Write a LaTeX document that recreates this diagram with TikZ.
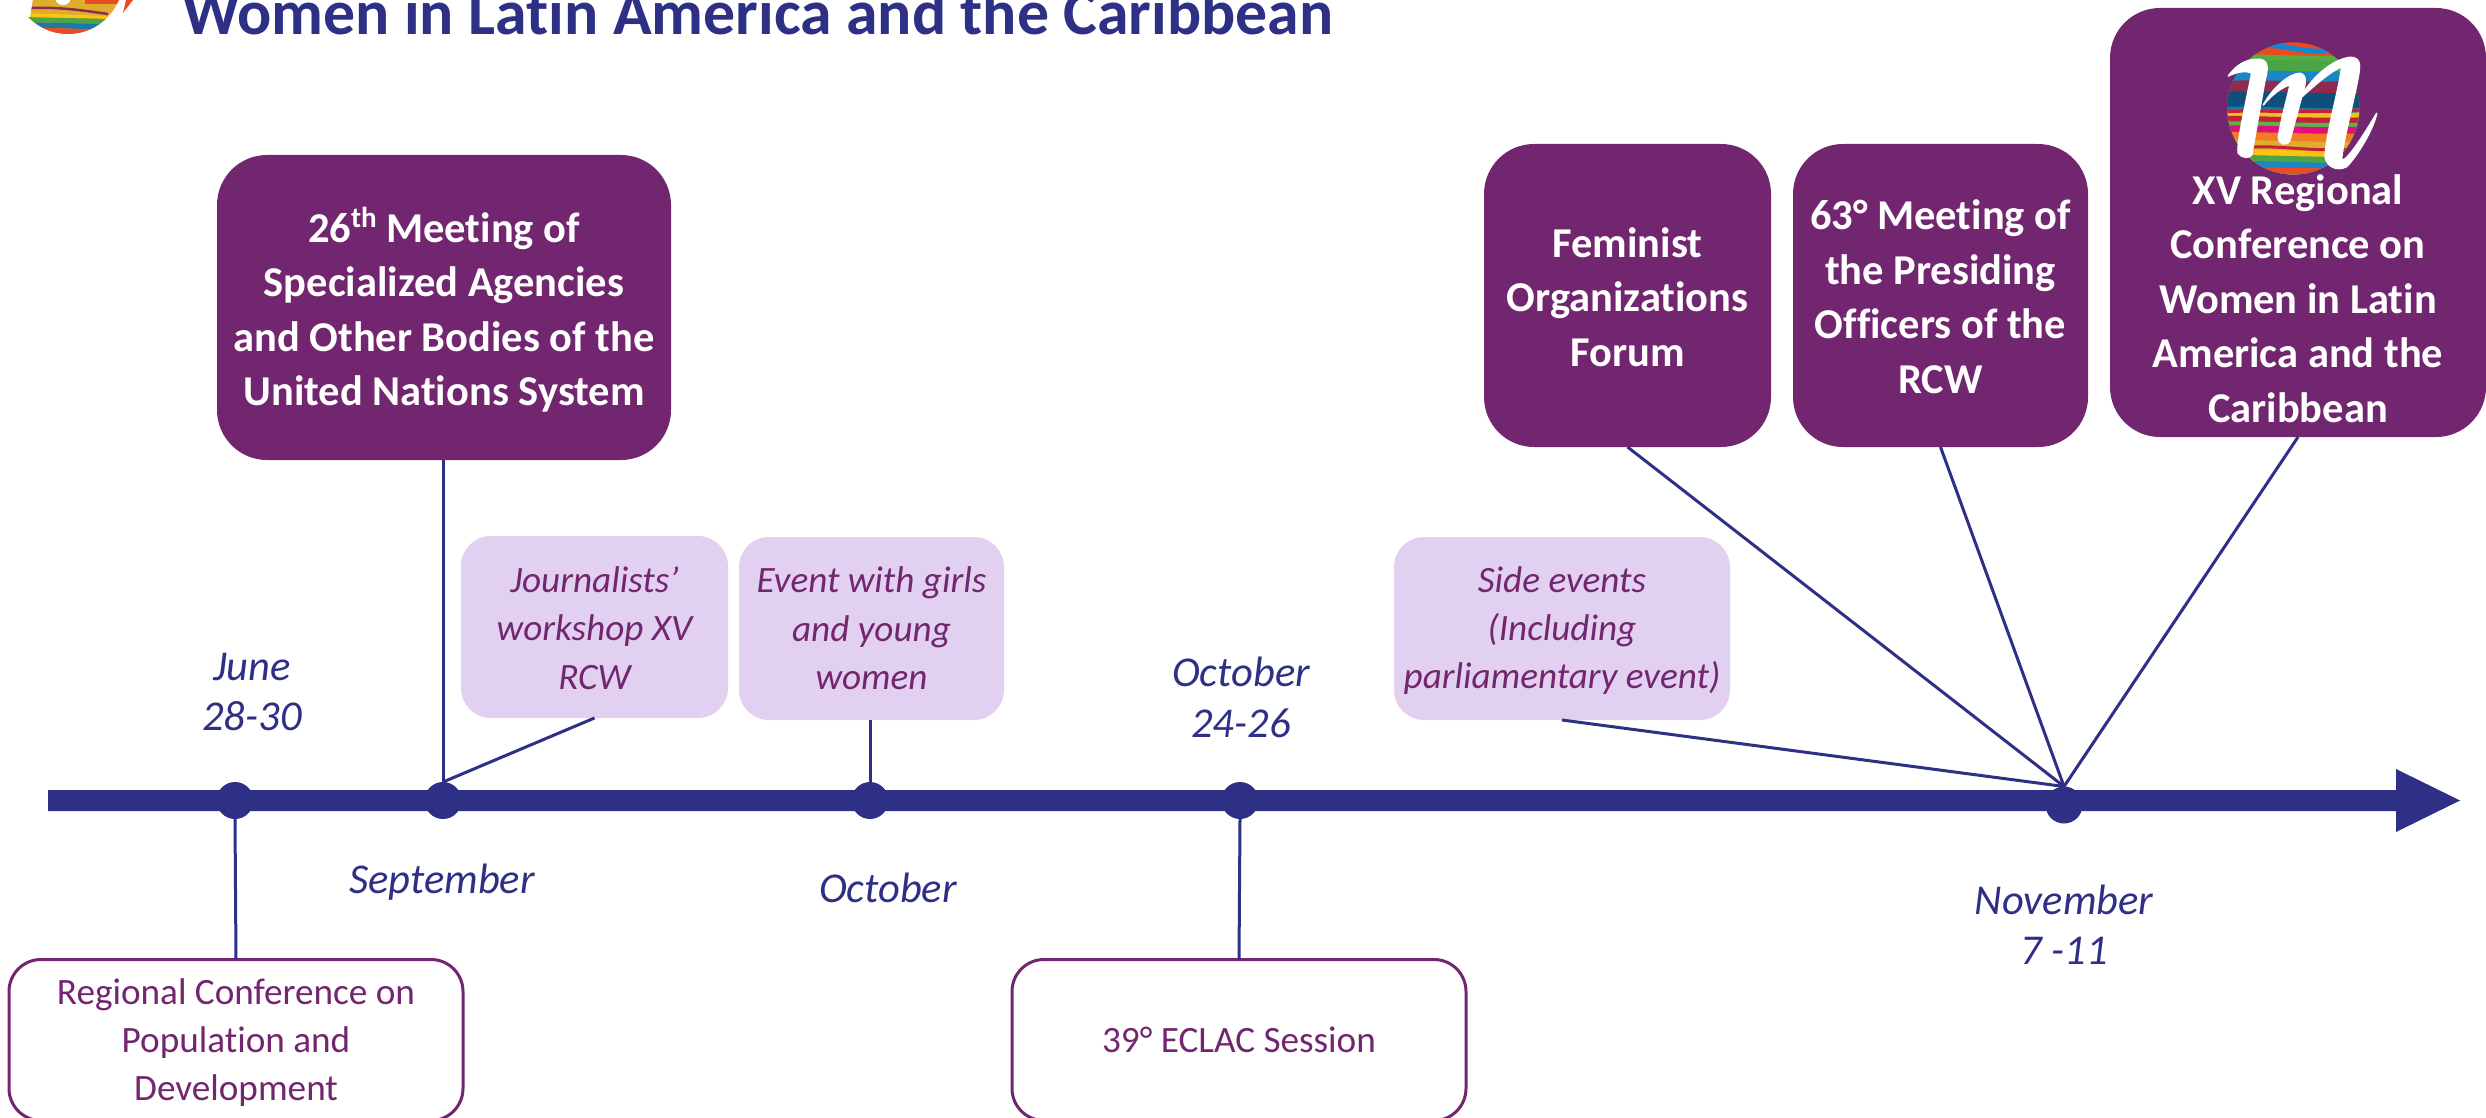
\documentclass[tikz,border=0pt]{standalone}
\usepackage{fontspec}
\setmainfont{Carlito}[RawFeature={-liga}]
\definecolor{navy}{HTML}{2E3086}
\definecolor{plum}{HTML}{72266F}
\definecolor{lilac}{HTML}{E1D0EF}
\tikzset{
  every node/.style={inner sep=0pt,outer sep=0pt},
  boxbase/.style={rounded corners=#1},
  bigbox/.style={boxbase=50pt,fill=plum},
  softbox/.style={boxbase=30pt,fill=lilac},
  linebox/.style={boxbase=32pt,draw=plum,line width=3pt,fill=white},
  bigtext/.style={align=center,text=white,font=\fontsize{42.5}{54.5}\selectfont\bfseries},
  softtext/.style={align=center,text=plum,font=\fontsize{37.2}{48.3}\selectfont\itshape},
  linetext/.style={align=center,text=plum,font=\fontsize{37.2}{48.3}\selectfont},
  datelabel/.style={align=center,text=navy,font=\fontsize{42.5}{50.5}\selectfont\itshape},
  stem/.style={draw=navy,line width=3pt},
  dot/.style={circle,fill=navy,minimum size=37pt},
  mstroke/.style={fill=white,draw=white,line width=1.5pt,line join=round},
}
\newcommand{\band}[2]{\fill[#1] (-20,#2) .. controls (120,#2-8) and (300,#2+10) .. (520,#2) -- (520,460) -- (-20,460) -- cycle;}
\newcommand{\logobands}{%
  \band{c1}{30}\band{c2}{75}\band{c3}{90}\band{c4}{122}\band{c5}{158}\band{c6}{186}\band{c7}{232}\band{c8}{245}\band{c9}{260}\band{c10}{276}\band{c11}{288}\band{c12}{308}\band{c13}{332}\band{c14}{360}\band{c3}{377}\band{c4}{395}\band{c1}{412}%
  \draw[cyan!70!blue,line width=5pt] (170,48) .. controls (220,42) and (280,70) .. (350,62);
  \draw[c5,line width=4pt] (50,160) .. controls (150,150) and (300,170) .. (450,155);
  \draw[c9,line width=3pt] (50,245) .. controls (150,240) and (300,250) .. (450,240);
  \draw[c9,line width=3pt] (120,352) .. controls (200,345) and (300,365) .. (420,358);
}
\definecolor{c1}{HTML}{EB4B22}
\definecolor{c2}{HTML}{55AC45}
\definecolor{c3}{HTML}{4AA545}
\definecolor{c4}{HTML}{1A86C4}
\definecolor{c5}{HTML}{8E2B4F}
\definecolor{c6}{HTML}{0E4F7B}
\definecolor{c7}{HTML}{1F76A8}
\definecolor{c8}{HTML}{F2C21A}
\definecolor{c9}{HTML}{C4203A}
\definecolor{c10}{HTML}{56B848}
\definecolor{c11}{HTML}{E0107A}
\definecolor{c12}{HTML}{F47B20}
\definecolor{c13}{HTML}{DDAE2E}
\definecolor{c14}{HTML}{FFC20E}
\begin{document}
\begin{tikzpicture}[x=1pt,y=-1pt]
\useasboundingbox (0,0) rectangle (2486,1118);
\clip (0,0) rectangle (2486,1118);
% title
\node[anchor=base west,text=navy,font=\fontsize{63.8}{70}\selectfont\bfseries] (title) at (182,35) {Women in Latin America and the Caribbean};
% small logo
\begin{scope}
  \clip (68,-21) circle (55);
  \fill[c13] (0,-30) rectangle (140,40);
  \fill[c1] (85,-30) rectangle (140,4);
  \draw[c5,line width=2.5pt] (30,8) .. controls (60,7) and (80,10) .. (108,14);
  \fill[c14] (20,13) -- (110,16) -- (110,19) -- (20,17) -- cycle;
  \fill[c3] (20,17) -- (110,19) -- (110,24) -- (20,22) -- cycle;
  \fill[c7] (20,22) -- (110,24) -- (110,30) -- (20,27) -- cycle;
  \fill[c1] (20,27) -- (110,30) -- (110,40) -- (20,40) -- cycle;
\end{scope}
\fill[white] (15,-1) -- (33,-1) -- (30,17) -- (15,17) -- cycle;
\fill[white] (63,0) ellipse (7 and 5);
\fill[c1] (126,0) -- (133,0) -- (123,13) -- cycle;
% axis
\coordinate (axtip) at (2460,800.5);
\fill[navy] (48,790) -- (2396,790) -- (2396,769) -- (axtip) -- (2396,832) -- (2396,811) -- (48,811) -- cycle;
% dots
\node[dot] (d1) at (235,800.5) {};
\node[dot] (d2) at (443,800.5) {};
\node[dot] (d3) at (870,800.5) {};
\node[dot] (d4) at (1240,800.5) {};
\node[dot] (d5) at (2064,805) {};
% boxes
\node[bigbox,minimum width=454pt,minimum height=305pt] (un) at (444,307.5) {};
\node[bigbox,minimum width=287pt,minimum height=303pt] (forum) at (1627.5,295.5) {};
\node[bigbox,minimum width=295pt,minimum height=303pt] (officers) at (1940.5,295.5) {};
\node[bigbox,minimum width=376pt,minimum height=429pt] (xv) at (2298,222.5) {};
\node[softbox,minimum width=267pt,minimum height=182pt] (journ) at (594.5,627) {};
\node[softbox,minimum width=265pt,minimum height=183pt] (girls) at (871.5,628.5) {};
\node[softbox,minimum width=336pt,minimum height=183pt] (side) at (1562,628.5) {};
\node[linebox,minimum width=454pt,minimum height=161pt] (popul) at (236,1040) {};
\node[linebox,minimum width=454pt,minimum height=161pt] (eclac) at (1239,1040) {};
% box texts
\node[bigtext,yshift=-2pt] (unT) at (un) {26\raisebox{15pt}{\fontsize{29}{29}\selectfont th} Meeting of\\Specialized Agencies\\and Other Bodies of the\\United Nations System};
\node[bigtext,yshift=-1.5pt] (forumT) at (forum) {Feminist\\Organizations\\Forum};
\node[bigtext,yshift=-1pt] (officersT) at (officers) {63° Meeting of\\the Presiding\\Officers of the\\RCW};
\node[bigtext,anchor=north] (xvT) at (2298,174.5) {XV Regional\\Conference on\\Women in Latin\\America and the\\Caribbean};
\node[softtext,yshift=-1pt] (journT) at (journ) {Journalists’\\workshop XV\\RCW};
\node[softtext] (girlsT) at (girls) {Event with girls\\and young\\women};
\node[softtext,yshift=-2pt] (sideT) at (side) {Side events\\(Including\\parliamentary event)};
\node[linetext,yshift=-2.5pt] (populT) at (popul) {Regional Conference on\\Population and\\Development};
\node[linetext] (eclacT) at (eclac) {39° ECLAC Session};
% logo in the XV box
\begin{scope}[shift={(2210,30)},x=0.3333pt,y=-0.3333pt]
  \begin{scope}
    \clip (250,235) circle (198);
    \logobands
  \end{scope}
  \path[mstroke] (55,138) .. controls (75,110) and (105,85) .. (150,88) .. controls (175,92) and (175,115) .. (165,150) -- (125,375) .. controls (120,385) and (95,385) .. (85,370) .. controls (78,350) and (105,230) .. (125,130) .. controls (110,120) and (80,125) .. (55,138) -- cycle;
  \path[mstroke] (160,225) .. controls (190,170) and (240,130) .. (270,130) .. controls (295,135) and (285,170) .. (275,200) -- (240,330) .. controls (230,350) and (205,345) .. (205,320) .. controls (215,260) and (235,190) .. (240,165) .. controls (215,170) and (180,200) .. (160,225) -- cycle;
  \path[mstroke] (270,205) .. controls (300,150) and (360,90) .. (420,82) .. controls (455,82) and (450,110) .. (445,140) .. controls (430,220) and (400,330) .. (395,385) .. controls (395,400) and (420,385) .. (500,250) .. controls (490,300) and (440,380) .. (410,410) .. controls (380,425) and (350,410) .. (345,380) .. controls (350,300) and (385,190) .. (395,110) .. controls (350,130) and (300,180) .. (270,205) -- cycle;
\end{scope}
% connectors
\draw[stem] (un.south -| d2) -- (d2.center);
\draw[stem] (journ.south) -- (d2.north);
\draw[stem] (girls.south -| d3) -- (d3.center);
\draw[stem] (side.south) -- (d5.north);
\draw[stem] (forum.south) -- (d5.north);
\draw[stem] (officers.south) -- (d5.north);
\draw[stem] (xv.south) -- (d5.north);
\draw[stem] (d1.south) -- (popul.north);
\draw[stem] (d4.south) -- (eclac.north);
% dates
\node[datelabel] (june) at (252,692) {June\\28-30};
\node[datelabel] (sept) at (442,882.5) {September};
\node[datelabel] (oct) at (888,887.5) {October};
\node[datelabel] (oct2) at (1241,697.5) {October\\24-26};
\node[datelabel] (nov) at (2064,924.5) {November\\7 -11};
\end{tikzpicture}
\end{document}
